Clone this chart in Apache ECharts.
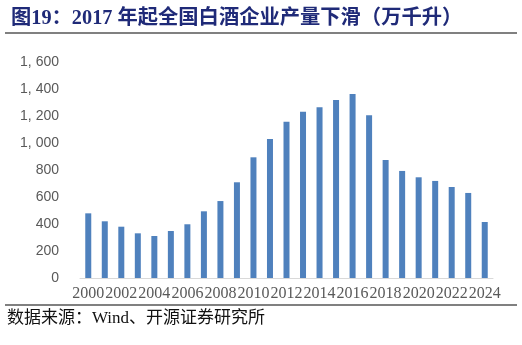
<!DOCTYPE html>
<html><head><meta charset="utf-8">
<script src="https://cdn.jsdelivr.net/npm/echarts@6/dist/echarts.min.js"></script>
<style>html,body{margin:0;padding:0;background:#fff}#c{width:522px;height:345px}</style>
</head><body><div id="c"></div>
<script>
var years = ['2000','2001','2002','2003','2004','2005','2006','2007','2008','2009','2010','2011','2012','2013','2014','2015','2016','2017','2018','2019','2020','2021','2022','2023','2024'];
var output = [479,420,380,331,311,348,398,494,570,709,894,1030,1158,1232,1264,1319,1363,1205,874,793,746,719,674,630,415];
var yTicks = [0,200,400,600,800,1000,1200,1400,1600];
var titleText = '图19：2017 年起全国白酒企业产量下滑（万千升）';
var sourceText = '数据来源：Wind、开源证券研究所';

function fmt(v){ return v >= 1000 ? Math.floor(v/1000) + ', ' + String(v%1000).padStart(3,'0') : String(v); }

var chart = echarts.init(document.getElementById('c'));
chart.setOption({
  animation: false,
  title: {
    text: titleText, left: 6, top: 4,
    textStyle: {fontFamily: 'Liberation Serif, Noto Sans CJK SC', fontWeight: 'bold', fontSize: 20.3, color: '#1F2A78'}
  },
  grid: {left: 80, right: 29, top: 62, bottom: 67},
  xAxis: {
    type: 'category', data: years,
    axisTick: {show: false},
    axisLine: {lineStyle: {color: '#D9D9D9', width: 1}},
    axisLabel: {interval: 1, color: '#595959', fontFamily: 'Liberation Serif', fontSize: 16, margin: 8}
  },
  yAxis: {
    type: 'value', min: yTicks[0], max: yTicks[yTicks.length-1], interval: 200,
    splitLine: {show: false}, axisLine: {show: false}, axisTick: {show: false},
    axisLabel: {color: '#595959', fontFamily: 'Liberation Sans', fontSize: 14, margin: 21, formatter: fmt}
  },
  series: [{
    type: 'bar', data: output, barWidth: 6,
    itemStyle: {color: '#4F81BD'}
  }],
  graphic: [
    {type: 'line', shape: {x1: 5, y1: 33, x2: 517, y2: 33}, style: {stroke: '#808080', lineWidth: 2}},
    {type: 'line', shape: {x1: 5, y1: 305, x2: 517, y2: 305}, style: {stroke: '#808080', lineWidth: 2}},
    {type: 'text', left: 7, top: 310, style: {text: sourceText, fill: '#111', font: '17px "Liberation Serif", "Noto Sans CJK SC"'}}
  ]
});
</script></body></html>
